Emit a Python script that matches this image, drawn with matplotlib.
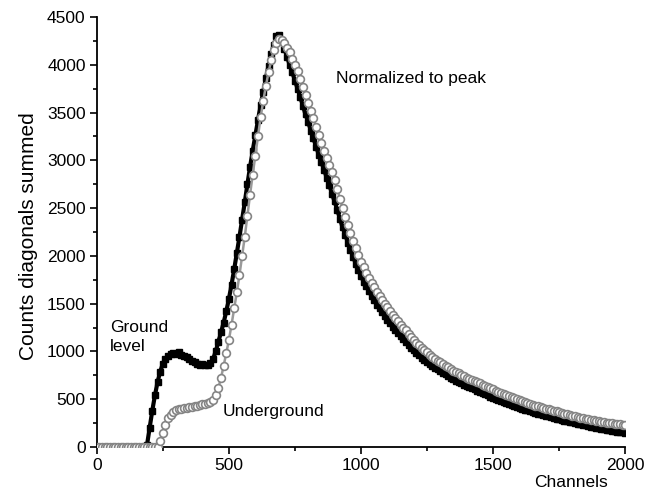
import matplotlib
matplotlib.use("Agg")
import matplotlib.pyplot as plt
from matplotlib.ticker import MultipleLocator

plt.rcParams['font.family'] = ['Liberation Sans', 'DejaVu Sans']

# Channel positions (every 10 channels)
channels = list(range(0, 2001, 10))

# Ground level spectrum (counts, normalized to peak)
ground = [
    0, 0, 0, 0, 0, 0, 0, 0, 0, 0,            # 0-90
    0, 0, 0, 0, 0, 0, 0, 0, 0, 20,           # 100-190
    200, 380, 540, 680, 790, 870, 920, 950, 970, 985,   # 200-290
    975, 995, 960, 955, 940, 925, 900, 885, 870, 860,   # 300-390
    865, 855, 860, 880, 920, 1000, 1100, 1200, 1300, 1420,  # 400-490
    1550, 1700, 1860, 2030, 2200, 2380, 2560, 2750, 2930, 3100,  # 500-590
    3260, 3420, 3580, 3720, 3860, 3990, 4110, 4210, 4300, 4310,  # 600-690
    4250, 4170, 4080, 4000, 3920, 3830, 3750, 3660, 3570, 3480,  # 700-790
    3400, 3310, 3230, 3140, 3060, 2980, 2900, 2820, 2740, 2650,  # 800-890
    2570, 2480, 2390, 2300, 2220, 2140, 2060, 1990, 1920, 1850,  # 900-990
    1790, 1730, 1680, 1630, 1580, 1535, 1490, 1450, 1410, 1370,  # 1000-1090
    1330, 1295, 1260, 1225, 1190, 1160, 1130, 1100, 1070, 1040,  # 1100-1190
    1010, 985, 960, 935, 910, 890, 870, 850, 830, 812,  # 1200-1290
    795, 778, 760, 742, 725, 710, 695, 680, 665, 652,  # 1300-1390
    640, 628, 615, 602, 590, 578, 565, 552, 540, 527,  # 1400-1490
    515, 505, 495, 483, 472, 461, 450, 440, 430, 420,  # 1500-1590
    410, 401, 392, 383, 375, 366, 358, 350, 342, 335,  # 1600-1690
    328, 320, 312, 305, 298, 291, 284, 277, 270, 264,  # 1700-1790
    258, 251, 245, 238, 232, 226, 220, 214, 208, 202,  # 1800-1890
    197, 191, 186, 181, 176, 171, 166, 161, 156, 152,  # 1900-1990
    148,                                                # 2000
]

# Underground spectrum (counts, normalized to peak)
underground = [
    0, 0, 0, 0, 0, 0, 0, 0, 0, 0,            # 0-90
    0, 0, 0, 0, 0, 0, 0, 0, 0, 0,            # 100-190
    0, 0, 0, 0, 60, 150, 230, 300, 340, 370,  # 200-290
    385, 395, 400, 405, 410, 415, 420, 425, 430, 438,  # 300-390
    445, 452, 460, 470, 490, 540, 620, 720, 850, 980,  # 400-490
    1120, 1280, 1450, 1620, 1800, 2000, 2200, 2420, 2640, 2850,  # 500-590
    3050, 3250, 3450, 3620, 3780, 3920, 4050, 4150, 4230, 4270,  # 600-690
    4260, 4230, 4180, 4130, 4060, 4000, 3930, 3850, 3770, 3680,  # 700-790
    3600, 3520, 3440, 3350, 3270, 3180, 3100, 3020, 2950, 2880,  # 800-890
    2790, 2700, 2600, 2500, 2410, 2320, 2240, 2160, 2080, 2010,  # 900-990
    1940, 1880, 1820, 1770, 1720, 1670, 1625, 1580, 1540, 1500,  # 1000-1090
    1460, 1420, 1385, 1350, 1315, 1280, 1250, 1220, 1185, 1150,  # 1100-1190
    1120, 1090, 1065, 1040, 1015, 990, 968, 945, 925, 905,  # 1200-1290
    887, 870, 852, 835, 818, 800, 785, 770, 755, 740,  # 1300-1390
    727, 715, 702, 690, 677, 665, 652, 640, 627, 615,  # 1400-1490
    602, 590, 577, 565, 555, 545, 535, 525, 512, 500,  # 1500-1590
    490, 480, 470, 460, 450, 440, 432, 425, 417, 410,  # 1600-1690
    402, 395, 387, 380, 372, 365, 357, 350, 342, 335,  # 1700-1790
    327, 320, 312, 305, 300, 295, 290, 285, 278, 272,  # 1800-1890
    267, 262, 258, 255, 251, 248, 244, 240, 237, 235,  # 1900-1990
    230,                                                # 2000
]

x_ticks = [0, 500, 1000, 1500, 2000]
y_ticks = [0, 500, 1000, 1500, 2000, 2500, 3000, 3500, 4000, 4500]

fig = plt.figure(figsize=(6.54, 4.96), dpi=100)
ax = fig.add_axes([0.148, 0.0988, 0.808, 0.8669])

# Ground level: black filled squares
ax.plot(channels, ground, color='black', linewidth=3, zorder=2)
ax.plot(channels, ground, linestyle='none', marker='s', markersize=4.6,
        markerfacecolor='black', markeredgecolor='black', zorder=2.2)

# Underground: grey open circles
ax.plot(channels, underground, color='#9a9a9a', linewidth=1.8, zorder=2.5)
ax.plot(channels, underground, linestyle='none', marker='o', markersize=5.6,
        markerfacecolor='white', markeredgecolor='#858585',
        markeredgewidth=1.2, zorder=3)

ax.set_xlim(0, 2000)
ax.set_ylim(0, 4500)
ax.set_xticks(x_ticks)
ax.set_yticks(y_ticks)
ax.xaxis.set_minor_locator(MultipleLocator(250))
ax.yaxis.set_minor_locator(MultipleLocator(250))
ax.tick_params(which='major', direction='out', length=5, width=1.2,
               labelsize=12.5, pad=3)
ax.tick_params(which='minor', direction='out', length=3, width=1.2)
for side in ('top', 'right'):
    ax.spines[side].set_visible(False)
for side in ('left', 'bottom'):
    ax.spines[side].set_linewidth(1.3)

ax.set_ylabel('Counts diagonals summed', fontsize=15)
ax.yaxis.set_label_coords(-0.112, 0.49)
fig.text(0.873, 0.012, 'Channels', fontsize=12.5, ha='center', va='bottom')

ax.text(1190, 3860, 'Normalized to peak', fontsize=12.5, ha='center', va='center')
ax.text(50, 1150, 'Ground\nlevel', fontsize=12.5, ha='left', va='center',
        linespacing=1.3)
ax.text(475, 370, 'Underground', fontsize=12.5, ha='left', va='center')

fig.savefig('out.png', dpi=100)
